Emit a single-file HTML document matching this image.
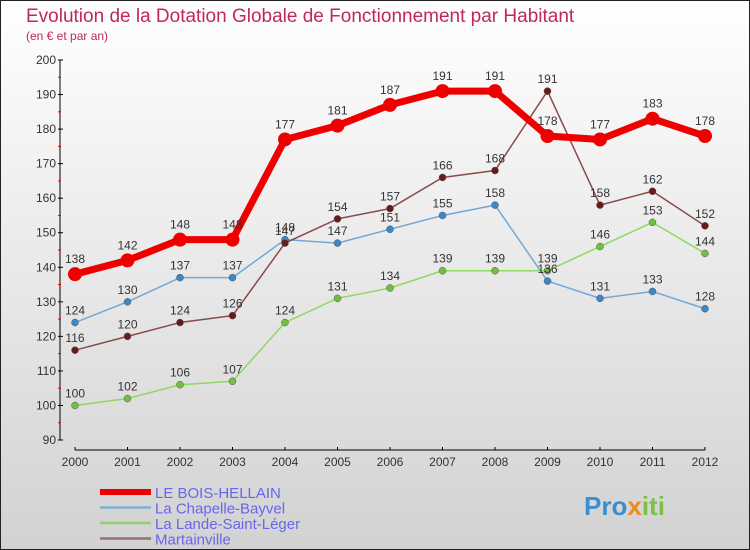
<!DOCTYPE html>
<html><head><meta charset="utf-8"><style>
html,body{margin:0;padding:0}
body{width:750px;height:550px;overflow:hidden;font-family:"Liberation Sans",sans-serif}
</style></head><body>
<svg id="c" width="750" height="550" xmlns="http://www.w3.org/2000/svg" style="display:block">
<defs><linearGradient id="bg" x1="0" y1="0" x2="0" y2="1"><stop offset="0" stop-color="#ffffff"/><stop offset="1" stop-color="#d2d2d2"/></linearGradient></defs>
<rect x="0.5" y="0.5" width="749" height="549" fill="url(#bg)" stroke="#222"/>
<text x="26" y="22" font-size="19" fill="#c0285a">Evolution de la Dotation Globale de Fonctionnement par Habitant</text>
<text x="26" y="40" font-size="12" fill="#c0285a">(en € et par an)</text>
<g id="axes"></g><g id="series"></g><g id="legend"></g>
<text x="584" y="515" font-size="26" font-weight="bold" fill="#3a8fd0">Pro<tspan fill="#f08a1c">x</tspan><tspan fill="#7cc242">iti</tspan></text>
</svg>
<script>
const years=["2000","2001","2002","2003","2004","2005","2006","2007","2008","2009","2010","2011","2012"];
const yTicks=[90,100,110,120,130,140,150,160,170,180,190,200];
const seriesNames=["LE BOIS-HELLAIN","La Chapelle-Bayvel","La Lande-Saint-Léger","Martainville"];
const boisHellain=[138,142,148,148,177,181,187,191,191,178,177,183,178];
const chapelle=[124,130,137,137,148,147,151,155,158,136,131,133,128];
const lande=[100,102,106,107,124,131,134,139,139,139,146,153,144];
const martainville=[116,120,124,126,147,154,157,166,168,191,158,162,152];
const NS="http://www.w3.org/2000/svg";
const x=i=>75+i*52.5;
const y=v=>440-(v-90)*3.4545;
function mk(p,t,a){const e=document.createElementNS(NS,t);for(const k in a)e.setAttribute(k,a[k]);p.appendChild(e);return e;}
const ax=document.getElementById('axes');
let l=mk(ax,'line',{x1:60,y1:60,x2:60,y2:440,stroke:'#000'});

l=mk(ax,'line',{x1:75,y1:450,x2:705,y2:450,stroke:'#000'});

yTicks.forEach(v=>{
 const t=mk(ax,'line',{x1:58,y1:y(v),x2:63,y2:y(v),stroke:'#000'});
 
 if(v<200){const m=mk(ax,'line',{x1:58,y1:y(v+5),x2:61,y2:y(v+5),stroke:'#e00'});}
 const tx=mk(ax,'text',{x:56,y:y(v)+4,'font-size':12,'text-anchor':'end',fill:'#333'});tx.textContent=v;
 
});
years.forEach((yr,i)=>{
 const t=mk(ax,'line',{x1:x(i),y1:447,x2:x(i),y2:450,stroke:'#000'});
 
 const tx=mk(ax,'text',{x:x(i),y:466,'font-size':12,'text-anchor':'middle',fill:'#333'});tx.textContent=yr;
 
});
const sg=document.getElementById('series');
const defs=[[lande,'#90d860','#70c040',1.5,3.5,'lande'],[chapelle,'#70a8d8','#3a88c8',1.5,3.5,'chapelle'],[martainville,'#8a4a4a','#6a1a1a',1.5,3.5,'martainville'],[boisHellain,'#ee0000','#ee0000',7,7,'bois-hellain']];
defs.forEach(([d,lc,pc,w,r,n])=>{
 const g=mk(sg,'g',{});
 const p=mk(g,'polyline',{points:d.map((v,i)=>x(i)+','+y(v)).join(' '),fill:'none',stroke:lc,'stroke-width':w,'stroke-linejoin':'round'});
 
 d.forEach((v,i)=>{
  const c=mk(g,'circle',{cx:x(i),cy:y(v),r:r,fill:pc,stroke:w>2?'none':'#555','stroke-width':0.5});
  
  const t=mk(g,'text',{x:x(i),y:y(v)-(w>2?11:8),'font-size':12,'text-anchor':'middle',fill:'#333'});t.textContent=v;
  
 });
});
const lg=document.getElementById('legend');
const lcols=['#ee0000','#80b0d0','#90d070','#987070'];
seriesNames.forEach((s,i)=>{
 const yy=492+i*15.5;
 const g=mk(lg,'g',{});
 mk(g,'line',{x1:100,y1:yy,x2:151,y2:yy,stroke:lcols[i],'stroke-width':i==0?6:2.5});
 const t=mk(g,'text',{x:155,y:yy+6,'font-size':15,fill:'#6666ee'});t.textContent=s;
});
</script>
</body></html>
